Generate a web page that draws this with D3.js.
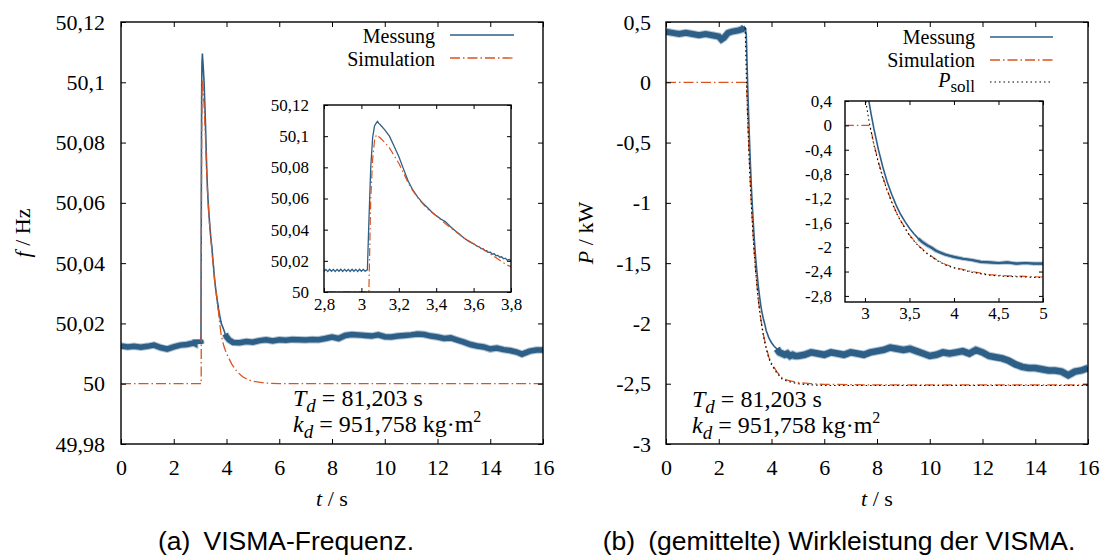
<!DOCTYPE html>
<html>
<head>
<meta charset="utf-8">
<script src="https://cdn.jsdelivr.net/npm/d3@7"></script>
<style>
  body { margin: 0; background: #fff; }
  svg { display: block; }
</style>
</head>
<body>
<div id="chart"></div>
<script>
// ---- data ----
var tTicks = [0, 2, 4, 6, 8, 10, 12, 14, 16];
var fTicks = [49.98, 50, 50.02, 50.04, 50.06, 50.08, 50.1, 50.12];
var pTicks = [-3, -2.5, -2, -1.5, -1, -0.5, 0, 0.5];
var fInsetT = [2.8, 3, 3.2, 3.4, 3.6, 3.8];
var fInsetV = [50, 50.02, 50.04, 50.06, 50.08, 50.1, 50.12];
var pInsetT = [3, 3.5, 4, 4.5, 5];
var pInsetV = [-2.8, -2.4, -2, -1.6, -1.2, -0.8, -0.4, 0, 0.4];

// frequency, measured [t, f]
var freqMessung = [
  [0,50.0125],[0.25,50.0122],[0.5,50.0124],[0.75,50.0121],[1,50.0124],[1.25,50.0128],[1.5,50.012],
  [1.75,50.0115],[2,50.0122],[2.25,50.0128],[2.5,50.013],[2.75,50.0135],
  [2.8,50.0133],[2.81,50.0145],[2.82,50.0132],[2.83,50.0146],[2.84,50.0133],[2.85,50.0145],[2.86,50.0132],
  [2.87,50.0145],[2.88,50.0133],[2.89,50.0146],[2.9,50.0132],[2.91,50.0145],[2.92,50.0133],[2.93,50.0145],
  [2.94,50.0132],[2.95,50.0146],[2.96,50.0133],[2.97,50.0145],[2.98,50.0132],[2.99,50.0146],[3,50.0133],
  [3.01,50.0145],[3.02,50.0134],[3.032,50.0142],
  [3.04,50.045],[3.05,50.08],[3.06,50.099],[3.07,50.1065],[3.08,50.1085],[3.086,50.1095],[3.093,50.1082],
  [3.1,50.1075],[3.125,50.104],[3.15,50.1],[3.175,50.0935],[3.2,50.087],[3.225,50.079],[3.25,50.0712],
  [3.275,50.0655],[3.3,50.061],[3.325,50.0575],[3.35,50.0545],[3.375,50.0515],[3.4,50.049],[3.425,50.0468],
  [3.45,50.045],[3.475,50.042],[3.5,50.0395],[3.525,50.037],[3.55,50.0345],[3.575,50.0325],[3.6,50.0308],
  [3.61,50.0302],[3.62,50.0292],[3.63,50.0290],[3.64,50.0279],[3.65,50.0278],[3.66,50.0266],[3.67,50.0266],
  [3.68,50.0254],[3.69,50.0255],[3.7,50.0243],[3.71,50.0245],[3.72,50.0233],[3.73,50.0235],[3.74,50.0223],
  [3.75,50.0226],[3.76,50.0213],[3.77,50.0217],[3.78,50.0204],[3.79,50.0209],[3.8,50.02],
  [3.85,50.019],[3.9,50.0178],[3.95,50.0165],[4,50.0156],[4.1,50.0145],[4.25,50.0137],[4.5,50.0136],
  [4.75,50.014],[5,50.0138],[5.25,50.0143],[5.5,50.0146],[5.75,50.0142],[6,50.0146],[6.25,50.0144],
  [6.5,50.0147],[6.75,50.0146],[7,50.0145],[7.25,50.0147],[7.5,50.0146],[7.75,50.015],[8,50.0155],
  [8.25,50.015],[8.5,50.016],[8.75,50.0163],[9,50.0162],[9.25,50.016],[9.5,50.0158],[9.75,50.0162],
  [10,50.0156],[10.25,50.0155],[10.5,50.0158],[10.75,50.016],[11,50.0162],[11.25,50.0165],[11.5,50.0163],
  [11.75,50.0158],[12,50.0155],[12.25,50.015],[12.5,50.0152],[12.75,50.0145],[13,50.0138],[13.25,50.013],
  [13.5,50.0125],[13.75,50.0122],[14,50.0115],[14.25,50.0118],[14.5,50.0113],[14.75,50.011],[15,50.0105],
  [15.2,50.0098],[15.5,50.0108],[15.75,50.0112],[16,50.0112]
];
// frequency, simulated [t, f]
var freqSimulation = [
  [0,50],[3.04,50],[3.045,50.03],[3.05,50.06],[3.06,50.085],[3.07,50.097],[3.08,50.1008],[3.1,50.099],
  [3.125,50.096],[3.15,50.0925],[3.175,50.0875],[3.2,50.0826],[3.225,50.0765],[3.25,50.07],[3.275,50.065],
  [3.3,50.0608],[3.325,50.057],[3.35,50.0538],[3.375,50.0512],[3.4,50.049],[3.45,50.0437],[3.5,50.0392],
  [3.55,50.0345],[3.6,50.031],[3.65,50.0275],[3.7,50.0236],[3.75,50.0195],[3.8,50.016],[3.9,50.0125],
  [4,50.01],[4.2,50.0065],[4.4,50.004],[4.6,50.0024],[4.8,50.0014],[5,50.0008],[5.5,50.0002],[6,50],[16,50]
];

// active power, measured [t, P]
var powMessung = [
  [0,0.42],[0.25,0.41],[0.5,0.4],[0.75,0.41],[1,0.4],[1.25,0.39],[1.5,0.4],[1.75,0.39],[2,0.38],[2.1,0.355],
  [2.2,0.37],[2.35,0.41],[2.5,0.42],[2.75,0.43],[2.9,0.44],[2.97,0.46],[3,0.45],
  [3.044,0.4],[3.07,0.18],[3.1,-0.05],[3.15,-0.39],[3.2,-0.68],[3.25,-0.93],[3.3,-1.13],[3.35,-1.31],
  [3.4,-1.46],[3.45,-1.58],[3.5,-1.69],[3.55,-1.78],[3.6,-1.86],[3.65,-1.92],[3.7,-1.97],[3.75,-2.01],
  [3.8,-2.06],[3.85,-2.09],[3.9,-2.12],[3.95,-2.14],[4,-2.16],[4.1,-2.19],[4.2,-2.21],[4.3,-2.24],
  [4.4,-2.25],[4.5,-2.26],[4.6,-2.25],[4.7,-2.27],[4.8,-2.26],[4.9,-2.27],[5,-2.27],[5.25,-2.26],
  [5.5,-2.24],[5.75,-2.25],[6,-2.26],[6.25,-2.24],[6.5,-2.25],[6.75,-2.26],[7,-2.24],[7.25,-2.25],
  [7.5,-2.26],[7.75,-2.24],[8,-2.23],[8.25,-2.22],[8.5,-2.2],[8.75,-2.21],[9,-2.22],[9.25,-2.21],
  [9.5,-2.23],[9.75,-2.25],[10,-2.27],[10.25,-2.26],[10.5,-2.24],[10.75,-2.25],[11,-2.24],[11.25,-2.23],
  [11.5,-2.25],[11.75,-2.22],[12,-2.24],[12.25,-2.27],[12.5,-2.28],[12.75,-2.29],[13,-2.31],[13.25,-2.34],
  [13.5,-2.36],[13.75,-2.37],[14,-2.37],[14.25,-2.38],[14.5,-2.39],[14.75,-2.39],[15,-2.4],[15.25,-2.43],
  [15.5,-2.4],[15.75,-2.39],[16,-2.37]
];
// active power, simulated [t, P]
var powSimulation = [
  [0,0],[3.056,0],[3.1,-0.3],[3.15,-0.59],[3.2,-0.84],[3.25,-1.06],[3.3,-1.25],[3.35,-1.42],[3.4,-1.56],
  [3.5,-1.8],[3.6,-1.97],[3.7,-2.1],[3.8,-2.2],[3.9,-2.28],[4,-2.33],[4.2,-2.4],[4.4,-2.45],[4.6,-2.47],
  [4.8,-2.48],[5,-2.49],[5.5,-2.5],[6,-2.505],[8,-2.51],[16,-2.51]
];
// active power, set point [t, P]
var powSoll = [
  [2.99,0.45],[3,0.45],[3.01,0.39],[3.02,0.3],[3.03,0.21],[3.04,0.12],[3.056,-0.01],[3.1,-0.32],
  [3.15,-0.61],[3.2,-0.86],[3.25,-1.07],[3.3,-1.26],[3.35,-1.43],[3.4,-1.57],[3.5,-1.81],[3.6,-1.98],
  [3.7,-2.11],[3.8,-2.21],[3.9,-2.29],[4,-2.34],[4.2,-2.41],[4.4,-2.46],[4.6,-2.48],[4.8,-2.49],
  [5,-2.5],[5.5,-2.51],[6,-2.515],[16,-2.515]
];

var blue = "#2e5f87", blueLight = "#6d93b3", orange = "#d9541e";
var simDash = "10,3,1.5,3";

var locale = d3.formatLocale({decimal: ",", thousands: ".", grouping: [3], currency: ["", ""], minus: "-"});
var fmt = locale.format("~f");

var svg = d3.select("#chart").append("svg")
    .attr("width", 1106)
    .attr("height", 557);

var defs = svg.append("defs");
var clipN = 0;
function clip(x0, y0, w, h) {
  var id = "clip" + (clipN++);
  defs.append("clipPath").attr("id", id).append("rect")
      .attr("x", x0).attr("y", y0).attr("width", w).attr("height", h);
  return "url(#" + id + ")";
}

// draws frame + inward ticks on four sides
function frame(g, x, y, xt, yt, size, fs, padX, padY) {
  var x0 = x.range()[0], x1 = x.range()[1], y0 = y.range()[1], y1 = y.range()[0];
  g.append("g").attr("transform", "translate(0," + y1 + ")")
      .call(d3.axisBottom(x).tickValues(xt).tickSize(-size).tickPadding(padX).tickFormat(fmt));
  g.append("g").attr("transform", "translate(0," + y0 + ")")
      .call(d3.axisTop(x).tickValues(xt).tickSize(-size).tickFormat(""));
  g.append("g").attr("transform", "translate(" + x0 + ",0)")
      .call(d3.axisLeft(y).tickValues(yt).tickSize(-size).tickPadding(padY).tickFormat(fmt));
  g.append("g").attr("transform", "translate(" + x1 + ",0)")
      .call(d3.axisRight(y).tickValues(yt).tickSize(-size).tickFormat(""));
  g.selectAll(".domain").remove();
  g.selectAll(".tick line").attr("stroke", "#000").attr("stroke-width", 1);
  g.selectAll(".tick text").attr("fill", "#000").style("font-size", fs + "px");
  g.append("rect")
      .attr("x", x0).attr("y", y0).attr("width", x1 - x0).attr("height", y1 - y0)
      .attr("fill", "none").attr("stroke", "#000").attr("stroke-width", 1.4);
}

function line(x, y) {
  return d3.line().x(function(d) { return x(d[0]); }).y(function(d) { return y(d[1]); });
}

function annot(g, x, yTop) {
  var t1 = g.append("text").attr("x", x).attr("y", yTop).style("font-size", "24px");
  t1.append("tspan").style("font-style", "italic").text("T");
  t1.append("tspan").style("font-style", "italic").style("font-size", "19px").attr("dy", 6).text("d");
  t1.append("tspan").attr("dy", -6).text(" = 81,203 s");
  var t2 = g.append("text").attr("x", x).attr("y", yTop + 26).style("font-size", "24px");
  t2.append("tspan").style("font-style", "italic").text("k");
  t2.append("tspan").style("font-style", "italic").style("font-size", "19px").attr("dy", 6).text("d");
  t2.append("tspan").attr("dy", -6).text(" = 951,758 kg\u00b7m");
  t2.append("tspan").attr("dy", -10).style("font-size", "16px").text("2");
}

function legendRow(g, xText, yBase, label, x0, x1, yLine, style) {
  g.append("text").attr("x", xText).attr("y", yBase).attr("text-anchor", "end")
      .style("font-size", "20px").text(label);
  var l = g.append("line").attr("x1", x0).attr("x2", x1).attr("y1", yLine).attr("y2", yLine)
      .attr("stroke", style.color).attr("stroke-width", style.width);
  if (style.dash) l.attr("stroke-dasharray", style.dash);
  return l;
}

function axisLabels(g, cx, cy, yLabelX, yVar, yUnit) {
  var xl = g.append("text").attr("x", cx).attr("y", 506).attr("text-anchor", "middle").style("font-size", "22px");
  xl.append("tspan").style("font-style", "italic").text("t");
  xl.append("tspan").text(" / s");
  var yl = g.append("text").attr("transform", "translate(" + yLabelX + "," + cy + ") rotate(-90)")
      .attr("text-anchor", "middle").style("font-size", "22px");
  yl.append("tspan").style("font-style", "italic").text(yVar);
  yl.append("tspan").text(" / " + yUnit);
}

// noisy measurement drawn as a thick band with a soft edge
function band(g, data, l, w) {
  g.append("path").datum(data).attr("d", l)
      .attr("fill", "none").attr("stroke", blueLight).attr("stroke-width", w + 2).attr("stroke-opacity", 0.55);
  g.append("path").datum(data).attr("d", l)
      .attr("fill", "none").attr("stroke", blue).attr("stroke-width", w);
}

// ================= (a) frequency =================
var ga = svg.append("g");
var xa = d3.scaleLinear().domain([0, 16]).range([121, 543]);
var ya = d3.scaleLinear().domain([49.98, 50.12]).range([444, 22]);
var la = line(xa, ya);

var pa = ga.append("g").attr("clip-path", clip(121, 22, 422, 422));
band(pa, freqMessung.filter(function(d) { return d[0] <= 3.032; }), la, 5.5);
band(pa, freqMessung.filter(function(d) { return d[0] >= 3.95; }), la, 5.5);
pa.append("path").datum(freqMessung).attr("d", la)
    .attr("fill", "none").attr("stroke", blue).attr("stroke-width", 1.6);
pa.append("path").datum(freqSimulation).attr("d", la)
    .attr("fill", "none").attr("stroke", orange).attr("stroke-width", 1.3).attr("stroke-dasharray", simDash);

frame(ga, xa, ya, tTicks, fTicks, 5, 22, 15, 16);
axisLabels(ga, 332, 233, 30, "f", "Hz");
legendRow(ga, 435, 43, "Messung", 450, 514, 35, {color: blue, width: 1.3});
legendRow(ga, 435, 66, "Simulation", 450, 514, 58, {color: orange, width: 1.3, dash: simDash});
annot(ga, 293, 406);

// inset (a)
var gai = svg.append("g");
var xai = d3.scaleLinear().domain([2.8, 3.8]).range([324, 511]);
var yai = d3.scaleLinear().domain([50, 50.12]).range([292, 105]);
gai.append("rect").attr("x", 324).attr("y", 105).attr("width", 187).attr("height", 187).attr("fill", "#fff");
var lai = line(xai, yai);
var pai = gai.append("g").attr("clip-path", clip(324, 105, 187, 187));
pai.append("path").datum(freqMessung).attr("d", lai)
    .attr("fill", "none").attr("stroke", blue).attr("stroke-width", 1.3);
pai.append("path").datum(freqSimulation).attr("d", lai)
    .attr("fill", "none").attr("stroke", orange).attr("stroke-width", 1.2).attr("stroke-dasharray", "8,3,1.5,3");
frame(gai, xai, yai, fInsetT, fInsetV, 4, 17, 6, 15);

// ================= (b) active power =================
var gb = svg.append("g");
var xb = d3.scaleLinear().domain([0, 16]).range([666, 1088]);
var yb = d3.scaleLinear().domain([-3, 0.5]).range([444, 22]);
var lb = line(xb, yb);
var pb = gb.append("g").attr("clip-path", clip(666, 22, 422, 422));
band(pb, powMessung.filter(function(d) { return d[0] <= 2.995; }), lb, 6);
band(pb, powMessung.filter(function(d) { return d[0] >= 4.2; }), lb, 6.5);
pb.append("path").datum(powMessung).attr("d", lb)
    .attr("fill", "none").attr("stroke", blue).attr("stroke-width", 1.6);
pb.append("path").datum(powSimulation).attr("d", lb)
    .attr("fill", "none").attr("stroke", orange).attr("stroke-width", 1.3).attr("stroke-dasharray", simDash);
pb.append("path").datum(powSoll).attr("d", lb)
    .attr("fill", "none").attr("stroke", "#000").attr("stroke-width", 1.2).attr("stroke-dasharray", "1.5,3");

frame(gb, xb, yb, tTicks, pTicks, 5, 22, 15, 15);
axisLabels(gb, 877, 233, 593, "P", "kW");
legendRow(gb, 975, 44, "Messung", 990, 1053, 37, {color: blue, width: 1.3});
legendRow(gb, 975, 67, "Simulation", 990, 1053, 60, {color: orange, width: 1.3, dash: simDash});
var ps = gb.append("text").attr("x", 975).attr("y", 87).attr("text-anchor", "end").style("font-size", "20px");
ps.append("tspan").style("font-style", "italic").text("P");
ps.append("tspan").attr("dy", 5).style("font-size", "17px").text("soll");
gb.append("line").attr("x1", 990).attr("x2", 1053).attr("y1", 82).attr("y2", 82)
    .attr("stroke", "#000").attr("stroke-width", 1.2).attr("stroke-dasharray", "1.5,3");
annot(gb, 692, 407);

// inset (b)
var gbi = svg.append("g");
var xbi = d3.scaleLinear().domain([2.776, 5]).range([845, 1043]);
var ybi = d3.scaleLinear().domain([-2.9, 0.4]).range([302, 101]);
gbi.append("rect").attr("x", 845).attr("y", 101).attr("width", 198).attr("height", 201).attr("fill", "#fff");
var lbi = line(xbi, ybi);
var pbi = gbi.append("g").attr("clip-path", clip(845, 101, 198, 201));
band(pbi, powMessung.filter(function(d) { return d[0] >= 3.6; }), lbi, 2.2);
pbi.append("path").datum(powMessung).attr("d", lbi)
    .attr("fill", "none").attr("stroke", blue).attr("stroke-width", 1.6);
pbi.append("path").datum(powSimulation).attr("d", lbi)
    .attr("fill", "none").attr("stroke", orange).attr("stroke-width", 1.2).attr("stroke-dasharray", "8,3,1.5,3");
pbi.append("path").datum(powSoll).attr("d", lbi)
    .attr("fill", "none").attr("stroke", "#000").attr("stroke-width", 1.1).attr("stroke-dasharray", "1.5,3");
frame(gbi, xbi, ybi, pInsetT, pInsetV, 4, 17, 5, 13);

// all chart text in the serif face
svg.selectAll("text").style("font-family", "'Liberation Serif'");

// ---- captions ----
svg.append("text").attr("x", 286).attr("y", 550).attr("text-anchor", "middle")
    .style("font-family", "'Liberation Sans'").style("font-size", "26.5px")
    .text("(a)\u2002VISMA-Frequenz.");
svg.append("text").attr("x", 839).attr("y", 550).attr("text-anchor", "middle")
    .style("font-family", "'Liberation Sans'").style("font-size", "26.5px")
    .text("(b)\u2002(gemittelte) Wirkleistung der VISMA.");
</script>
</body>
</html>
